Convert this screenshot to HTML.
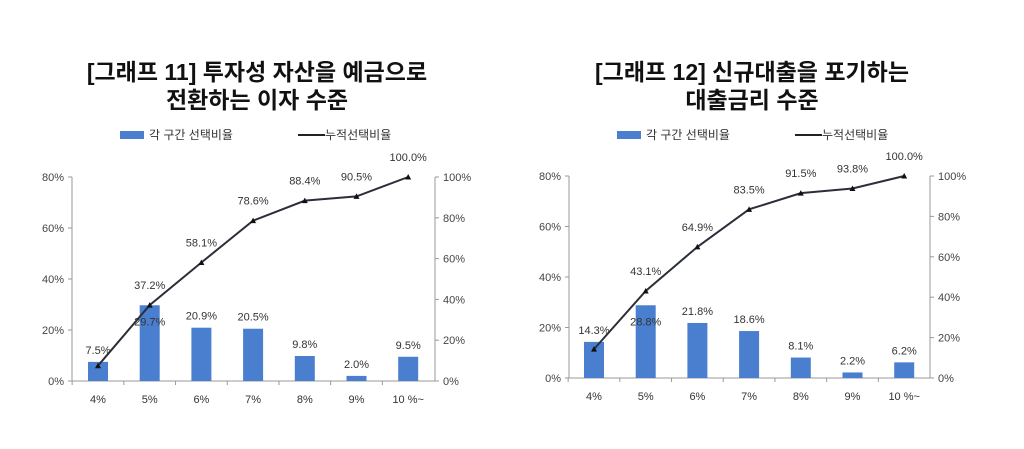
<!DOCTYPE html>
<html><head><meta charset="utf-8"><style>
body{margin:0;background:#fff;width:1024px;height:444px;overflow:hidden}
svg text{font-family:"Liberation Sans","Noto Sans CJK KR",sans-serif}
</style></head><body>
<svg id="s" width="1024" height="444" xmlns="http://www.w3.org/2000/svg">
<text x="257" y="80" font-size="23" font-weight="bold" text-anchor="middle" fill="#111">[그래프 11] 투자성 자산을 예금으로</text>
<text x="257" y="108" font-size="23" font-weight="bold" text-anchor="middle" fill="#111">전환하는 이자 수준</text>
<text x="752" y="80" font-size="23" font-weight="bold" text-anchor="middle" fill="#111">[그래프 12] 신규대출을 포기하는</text>
<text x="752" y="108" font-size="23" font-weight="bold" text-anchor="middle" fill="#111">대출금리 수준</text>
</svg>
<script>
const s=document.getElementById('s');let h='';
function chart(L,R,top,bot,c0,bars,cum,legx){
 const sp=51.7,bw=20,hL=v=>bot-(bot-top)*v/80,hR=v=>bot-(bot-top)*v/100;
 h+=`<rect x="${legx}" y="131" width="24" height="8" fill="#4a7fcf"/><text x="${legx+29}" y="139" font-size="12" fill="#333">각 구간 선택비율</text>`;
 h+=`<line x1="${legx+178}" y1="135" x2="${legx+205}" y2="135" stroke="#222" stroke-width="2"/><text x="${legx+205}" y="139" font-size="12" fill="#333">누적선택비율</text>`;
 h+=`<line x1="${L}" y1="${top}" x2="${L}" y2="${bot}" stroke="#999"/><line x1="${R}" y1="${top}" x2="${R}" y2="${bot}" stroke="#999"/><line x1="${L}" y1="${bot}" x2="${R}" y2="${bot}" stroke="#999"/>`;
 for(let i=0;i<=4;i++){let y=hL(i*20);h+=`<line x1="${L-4}" y1="${y}" x2="${L}" y2="${y}" stroke="#999"/><text x="${L-8}" y="${y+4}" font-size="11" text-anchor="end" fill="#444">${i*20}%</text>`;}
 for(let i=0;i<=5;i++){let y=hR(i*20);h+=`<line x1="${R}" y1="${y}" x2="${R+4}" y2="${y}" stroke="#999"/><text x="${R+8}" y="${y+4}" font-size="11" fill="#444">${i*20}%</text>`;}
 const cats=['4%','5%','6%','7%','8%','9%','10 %~'];let pts=[];
 for(let i=0;i<7;i++){let cx=c0+i*sp;
  h+=`<line x1="${cx-sp/2}" y1="${bot}" x2="${cx-sp/2}" y2="${bot+4}" stroke="#999"/>`;
  let y=hL(bars[i]);h+=`<rect x="${cx-bw/2}" y="${y}" width="${bw}" height="${bot-y}" fill="#4a7fcf"/>`;
  let ly=(i==1)?y+20:y-8;
  h+=`<text x="${cx}" y="${ly}" font-size="11" text-anchor="middle" fill="#333">${bars[i].toFixed(1)}%</text>`;
  h+=`<text x="${cx}" y="${bot+22}" font-size="11" text-anchor="middle" fill="#333">${cats[i]}</text>`;
  pts.push([cx,hR(cum[i])]);}
 h+=`<polyline points="${pts.map(p=>p.join(',')).join(' ')}" fill="none" stroke="#2b2f3a" stroke-width="2"/>`;
 pts.forEach((p,i)=>{h+=`<path d="M${p[0]-3},${p[1]+2.5}L${p[0]},${p[1]-3}L${p[0]+3},${p[1]+2.5}Z" fill="#111"/>`;
  if(i>0)h+=`<text x="${p[0]}" y="${p[1]-16}" font-size="11" text-anchor="middle" fill="#333">${cum[i].toFixed(1)}%</text>`;});
}
chart(72,435,177,381,98,[7.5,29.7,20.9,20.5,9.8,2.0,9.5],[7.5,37.2,58.1,78.6,88.4,90.5,100],120);
chart(569,930,176,378,594,[14.3,28.8,21.8,18.6,8.1,2.2,6.2],[14.3,43.1,64.9,83.5,91.5,93.8,100],617);
s.insertAdjacentHTML('beforeend',h);
</script>
</body></html>
